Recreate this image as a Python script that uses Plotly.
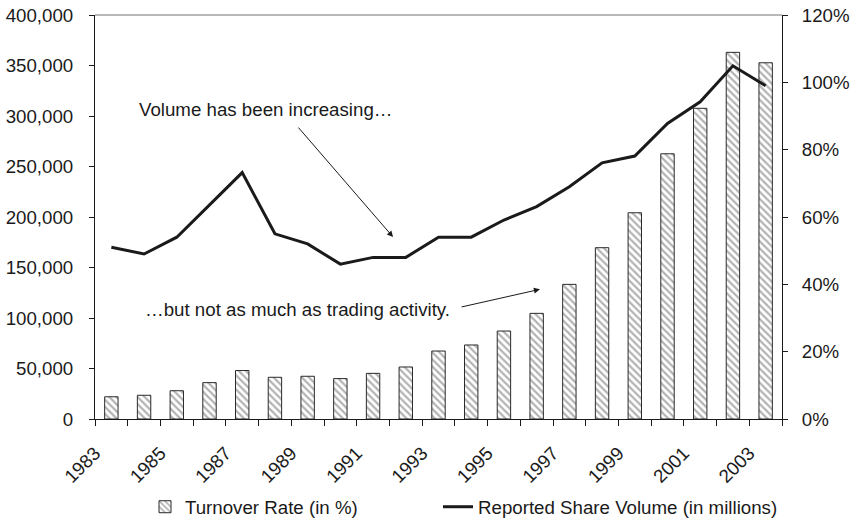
import plotly.graph_objects as go

years = list(range(1983, 2004))
bar_values = [22000, 23500, 28000, 36000, 48000, 41300, 42300, 40000, 45200, 51500,
              67300, 73300, 87100, 104600, 133300, 169600, 204200, 262600, 307600, 363000, 352700]
line_values = [51.0, 49.0, 54.0, 63.6, 73.2, 55.0, 52.0, 46.0, 48.0, 48.0,
               54.0, 54.0, 59.1, 63.1, 69.0, 76.1, 78.1, 87.8, 94.2, 104.9, 99.0]
bar_name = "Turnover Rate (in %)"
line_name = "Reported Share Volume (in millions)"
label_years = [str(y) for y in years[::2]]

# tick marks sit at category boundaries; labels on every other boundary
tick_positions = [y - 0.5 for y in years] + [years[-1] + 0.5]
tick_text = []
for i in range(len(tick_positions)):
    tick_text.append(label_years[i // 2] if i % 2 == 0 and i // 2 < len(label_years) else "")

FONT = "Liberation Sans, Arial, sans-serif"
FS = 18.7
INK = "#1a1a1a"

fig = go.Figure()
fig.add_trace(go.Bar(
    x=years, y=bar_values, name=bar_name, width=0.41, legend="legend",
    marker=dict(color="white", line=dict(color="#2a2a2a", width=1),
                pattern=dict(shape="\\", fgcolor="#666666", bgcolor="white", size=5, solidity=0.45)),
    yaxis="y"))
fig.add_trace(go.Scatter(
    x=years, y=line_values, name=line_name, mode="lines", legend="legend2",
    line=dict(color=INK, width=3), yaxis="y2"))

axis_common = dict(ticks="outside", tickcolor=INK, showline=True, linecolor=INK,
                   linewidth=1, showgrid=False, zeroline=False, automargin=False,
                   tickfont=dict(size=FS))

fig.update_layout(
    width=852, height=524,
    margin=dict(l=95, r=70, t=15, b=105, autoexpand=False),
    paper_bgcolor="white", plot_bgcolor="white",
    font=dict(family=FONT, size=FS, color=INK),
    xaxis=dict(range=[years[0] - 0.5, years[-1] + 0.5], tickmode="array",
               tickvals=tick_positions, ticktext=tick_text, tickangle=-45,
               ticklen=6, ticklabelstandoff=9, **axis_common),
    yaxis=dict(range=[0, 400000], dtick=50000, tickformat=",", ticklen=5,
               ticklabelstandoff=12, **axis_common),
    yaxis2=dict(range=[0, 120], dtick=20, ticksuffix="%", overlaying="y", side="right",
                ticklen=5, ticklabelstandoff=10, **axis_common),
    legend=dict(orientation="h", x=(145 - 95) / 687, xanchor="left", y=-0.218,
                yanchor="middle", font=dict(size=FS), bgcolor="rgba(0,0,0,0)"),
    legend2=dict(orientation="h", x=(438 - 95) / 687, xanchor="left", y=-0.218,
                 yanchor="middle", font=dict(size=FS), bgcolor="rgba(0,0,0,0)"),
    showlegend=True,
    shapes=[dict(type="line", xref="paper", yref="paper", x0=0, x1=1, y0=1, y1=1,
                 line=dict(color="#a0a0a0", width=1.5))],
    annotations=[
        dict(text="Volume has been increasing…", x=1983.78, y=306000, xref="x", yref="y",
             xanchor="left", yanchor="middle", showarrow=False),
        dict(text="", x=1991.61, y=180200, ax=1988.68, ay=290000, xref="x", yref="y",
             axref="x", ayref="y", showarrow=True, arrowhead=2, arrowsize=1.2,
             arrowwidth=1, arrowcolor=INK),
        dict(text="…but not as much as trading activity.", x=1983.97, y=108000, xref="x",
             yref="y", xanchor="left", yanchor="middle", showarrow=False),
        dict(text="", x=1996.1, y=128400, ax=1993.66, ay=110600, xref="x", yref="y",
             axref="x", ayref="y", showarrow=True, arrowhead=2, arrowsize=1.2,
             arrowwidth=1, arrowcolor=INK),
    ],
)

fig.write_html("out.html", config={"displayModeBar": False},
               post_script="document.body.style.margin='0';")
